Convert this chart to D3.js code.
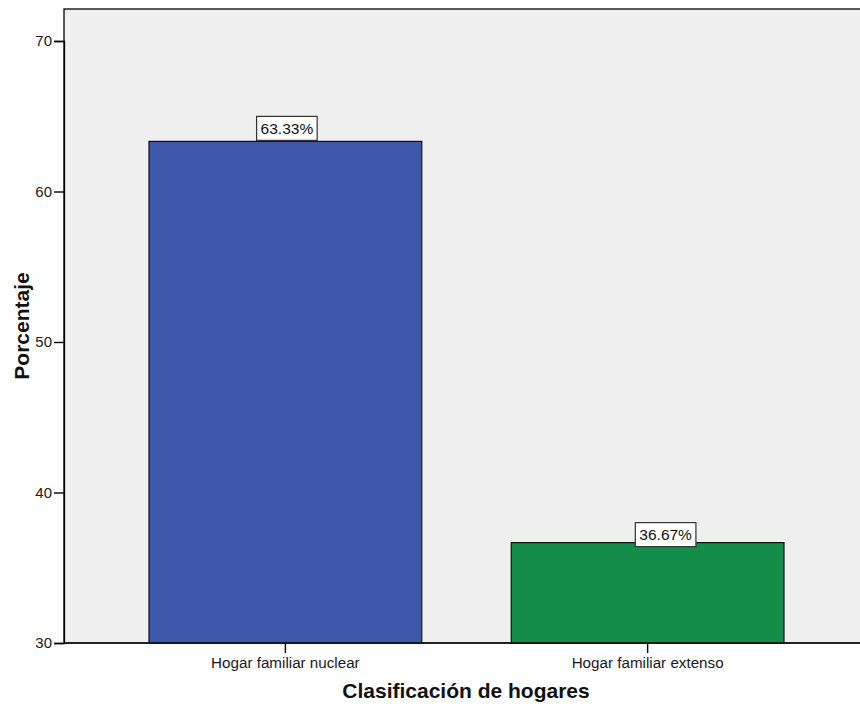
<!DOCTYPE html>
<html>
<head>
<meta charset="utf-8">
<script src="https://cdn.jsdelivr.net/npm/d3@7"></script>
<style>
  body { margin: 0; background: #fff; }
  svg { display: block; font-family: "Liberation Sans", Arial, sans-serif; }
</style>
</head>
<body>
<svg id="chart" width="860" height="707"></svg>
<script>
// Household classification, percentage of households
const categories = ["Hogar familiar nuclear", "Hogar familiar extenso"];
const percentages = [63.33, 36.67];
const barColors = ["#3d57a9", "#128d4a"];
const yTicks = [30, 40, 50, 60, 70];
const xTitle = "Clasificación de hogares";
const yTitle = "Porcentaje";

const svg = d3.select("#chart");
const plot = { left: 64, top: 9, right: 862, bottom: 643 };

const y = d3.scaleLinear().domain([30, 70]).range([plot.bottom, 41]);
const x = d3.scaleBand()
  .domain(categories)
  .range([149, 784])
  .paddingInner(0.247)
  .paddingOuter(0);

// plot background
svg.append("rect")
  .attr("x", plot.left).attr("y", plot.top)
  .attr("width", plot.right - plot.left).attr("height", plot.bottom - plot.top)
  .attr("fill", "#efefef")
  .attr("stroke", "#000").attr("stroke-width", 1.3);

// bars
svg.append("g").selectAll("rect")
  .data(categories)
  .join("rect")
  .attr("x", d => x(d))
  .attr("y", (d, i) => y(percentages[i]))
  .attr("width", x.bandwidth())
  .attr("height", (d, i) => y(30) - y(percentages[i]))
  .attr("fill", (d, i) => barColors[i])
  .attr("stroke", "#111").attr("stroke-width", 1.2);

// value labels in boxes, nudged off the bar tops
const labelDx = [1.5, 18];
const labelDy = [-13, -8];
const labels = svg.append("g").selectAll("g")
  .data(categories)
  .join("g")
  .attr("transform", (d, i) => `translate(${x(d) + x.bandwidth() / 2 + labelDx[i]},${y(percentages[i]) + labelDy[i]})`);
labels.each(function (d, i) {
  const g = d3.select(this);
  const t = g.append("text")
    .attr("text-anchor", "middle")
    .attr("dy", "0.36em")
    .attr("font-size", 15.5)
    .attr("fill", "#111")
    .text(percentages[i].toFixed(2) + "%");
  const w = t.node().getComputedTextLength() + 8;
  g.insert("rect", "text")
    .attr("x", -w / 2).attr("y", -12)
    .attr("width", w).attr("height", 24)
    .attr("fill", "#fff")
    .attr("stroke", "#333").attr("stroke-width", 1.2);
});

// y axis
const yAxis = svg.append("g")
  .attr("transform", `translate(${plot.left},0)`)
  .call(d3.axisLeft(y).tickValues(yTicks).tickSize(10).tickPadding(2).tickFormat(d3.format("d")));
yAxis.select(".domain").attr("stroke", "#000").attr("stroke-width", 1.3);
yAxis.selectAll(".tick line").attr("stroke", "#000").attr("stroke-width", 1.4);
yAxis.selectAll(".tick text").attr("font-size", 15).attr("fill", "#1a1a1a")
  .attr("font-family", "Liberation Sans, Arial, sans-serif");

// x axis
const xAxis = svg.append("g")
  .attr("transform", `translate(0,${plot.bottom})`)
  .call(d3.axisBottom(x).tickSize(10).tickPadding(4));
xAxis.select(".domain").remove();
xAxis.selectAll(".tick line").attr("stroke", "#000").attr("stroke-width", 1.4);
xAxis.selectAll(".tick text").attr("font-size", 15.2).attr("fill", "#1a1a1a")
  .attr("font-family", "Liberation Sans, Arial, sans-serif");
svg.append("line")
  .attr("x1", plot.left).attr("x2", plot.right)
  .attr("y1", plot.bottom).attr("y2", plot.bottom)
  .attr("stroke", "#111").attr("stroke-width", 1.5);

// axis titles
svg.append("text")
  .attr("x", 466)
  .attr("y", 698)
  .attr("text-anchor", "middle")
  .attr("font-size", 21).attr("font-weight", "bold").attr("fill", "#111")
  .text(xTitle);
svg.append("text")
  .attr("transform", `translate(29,${(plot.top + plot.bottom) / 2}) rotate(-90)`)
  .attr("text-anchor", "middle")
  .attr("font-size", 21).attr("font-weight", "bold").attr("fill", "#111")
  .text(yTitle);
</script>
</body>
</html>
